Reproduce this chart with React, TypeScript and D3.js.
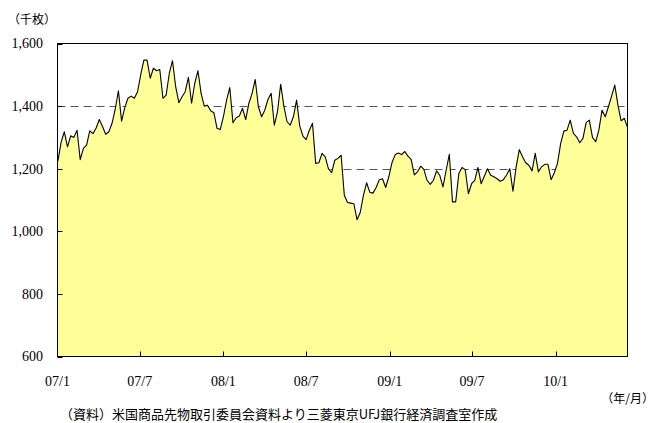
import React, { useRef, useEffect } from "react";
import * as d3 from "d3";

// weekly open interest (thousand contracts), first report 2007-01-02
const startDate = new Date(2007, 0, 2);
const values = [
    1225, 1285, 1318, 1270, 1305, 1300, 1323, 1229, 1265, 1275,
    1321, 1312, 1330, 1357, 1335, 1310, 1318, 1345, 1390, 1449,
    1352, 1395, 1425, 1432, 1425, 1445, 1500, 1547, 1547, 1489,
    1521, 1513, 1517, 1425, 1435, 1505, 1545, 1462, 1411, 1430,
    1446, 1492, 1409, 1473, 1513, 1440, 1400, 1403, 1385, 1379,
    1329, 1325, 1366, 1419, 1459, 1347, 1363, 1368, 1393, 1357,
    1409, 1440, 1485, 1398, 1366, 1387, 1421, 1441, 1339, 1382,
    1470, 1400, 1350, 1339, 1366, 1419, 1336, 1304, 1293, 1323,
    1345, 1217, 1219, 1249, 1238, 1200, 1187, 1227, 1233, 1243,
    1115, 1092, 1090, 1088, 1037, 1060, 1115, 1155, 1125, 1122,
    1140, 1165, 1168, 1140, 1175, 1220, 1245, 1250, 1245, 1255,
    1240, 1230, 1180, 1190, 1208, 1198, 1163, 1150, 1163, 1193,
    1179, 1142, 1195, 1246, 1094, 1094, 1185, 1204, 1197, 1120,
    1152, 1163, 1204, 1152, 1176, 1200, 1179, 1174, 1168, 1160,
    1165, 1180, 1200, 1128, 1206, 1261, 1238, 1219, 1211, 1193,
    1249, 1190, 1206, 1214, 1214, 1165, 1187, 1217, 1281, 1320,
    1323, 1355, 1313, 1302, 1283, 1297, 1347, 1355, 1300, 1286,
    1323, 1387, 1366, 1398, 1432, 1467, 1403, 1353, 1361, 1332,
];

const yTicks = [600, 800, 1000, 1200, 1400, 1600];
const gridValues = [800, 1000, 1200, 1400];
const xTickDates = [
    new Date(2007, 0, 1), new Date(2007, 6, 1), new Date(2008, 0, 1),
    new Date(2008, 6, 1), new Date(2009, 0, 1), new Date(2009, 6, 1),
    new Date(2010, 0, 1),
];
const xTickLabels = ["07/1", "07/7", "08/1", "08/7", "09/1", "09/7", "10/1"];

const serif = "'Liberation Serif', 'Times New Roman', serif";
const jp = "'Noto Sans CJK JP', sans-serif";

const App = () => {
    const svgRef = useRef<SVGSVGElement>(null);

    useEffect(() => {
        const svg = d3.select(svgRef.current);
        svg.selectAll("*").remove();

        const width = 655;
        const height = 423;
        const left = 57.5, right = 627.5, top = 43.5, bottom = 356.5;

        svg.attr("width", width).attr("height", height);

        const dates = values.map((_, i) => d3.timeDay.offset(startDate, i * 7));
        const data = values.map((v, i) => ({ date: dates[i], value: v }));

        const x = d3.scaleTime()
            .domain([xTickDates[0], dates[dates.length - 1]])
            .range([left, right]);
        const y = d3.scaleLinear().domain([600, 1600]).range([bottom, top]);

        // dashed grid behind the area
        svg.append("g").selectAll("line")
            .data(gridValues)
            .enter()
            .append("line")
            .attr("x1", left).attr("x2", right)
            .attr("y1", d => Math.round(y(d)) + 0.5)
            .attr("y2", d => Math.round(y(d)) + 0.5)
            .attr("stroke", "#555")
            .attr("stroke-dasharray", "8,5");

        const area = d3.area<any>()
            .x(d => x(d.date))
            .y0(y(600))
            .y1(d => y(d.value));

        const line = d3.line<any>()
            .x(d => x(d.date))
            .y(d => y(d.value));

        svg.append("path")
            .datum(data)
            .attr("d", area)
            .attr("fill", "#ffff99");

        svg.append("path")
            .datum(data)
            .attr("d", line)
            .attr("fill", "none")
            .attr("stroke", "#000")
            .attr("stroke-width", 1.1)
            .attr("stroke-linejoin", "round");

        // frame
        svg.append("rect")
            .attr("x", left).attr("y", top)
            .attr("width", right - left).attr("height", bottom - top)
            .attr("fill", "none")
            .attr("stroke", "#000");

        // y ticks + labels
        const yg = svg.append("g");
        yg.selectAll("line")
            .data(yTicks)
            .enter()
            .append("line")
            .attr("x1", left).attr("x2", left + 5)
            .attr("y1", d => Math.round(y(d)) + 0.5)
            .attr("y2", d => Math.round(y(d)) + 0.5)
            .attr("stroke", "#000");
        yg.selectAll("text")
            .data(yTicks)
            .enter()
            .append("text")
            .attr("x", 43)
            .attr("y", d => y(d))
            .attr("dy", "0.35em")
            .attr("text-anchor", "end")
            .attr("font-family", serif)
            .attr("font-size", 14)
            .text(d => d3.format(",")(d));

        // x ticks + labels
        const xg = svg.append("g");
        xg.selectAll("line")
            .data(xTickDates.slice(1))
            .enter()
            .append("line")
            .attr("x1", d => Math.round(x(d)) + 0.5)
            .attr("x2", d => Math.round(x(d)) + 0.5)
            .attr("y1", bottom).attr("y2", bottom - 5)
            .attr("stroke", "#000");
        xg.selectAll("text")
            .data(xTickDates)
            .enter()
            .append("text")
            .attr("x", d => x(d))
            .attr("y", 386)
            .attr("text-anchor", "middle")
            .attr("font-family", serif)
            .attr("font-size", 14)
            .text((d, i) => xTickLabels[i]);

        svg.append("text")
            .attr("x", 8).attr("y", 24)
            .attr("font-family", jp)
            .attr("font-size", 12)
            .text("（千枚）");

        svg.append("text")
            .attr("x", 654).attr("y", 403)
            .attr("text-anchor", "end")
            .attr("font-family", jp)
            .attr("font-size", 12)
            .text("（年/月）");

        svg.append("text")
            .attr("x", 60).attr("y", 419)
            .attr("font-family", jp)
            .attr("font-size", 13)
            .text("（資料）米国商品先物取引委員会資料より三菱東京UFJ銀行経済調査室作成");
    }, []);

    return (
        <div style={{ position: "absolute", left: 0, top: 0 }}>
            <svg ref={svgRef}></svg>
        </div>
    );
};

export default App;
